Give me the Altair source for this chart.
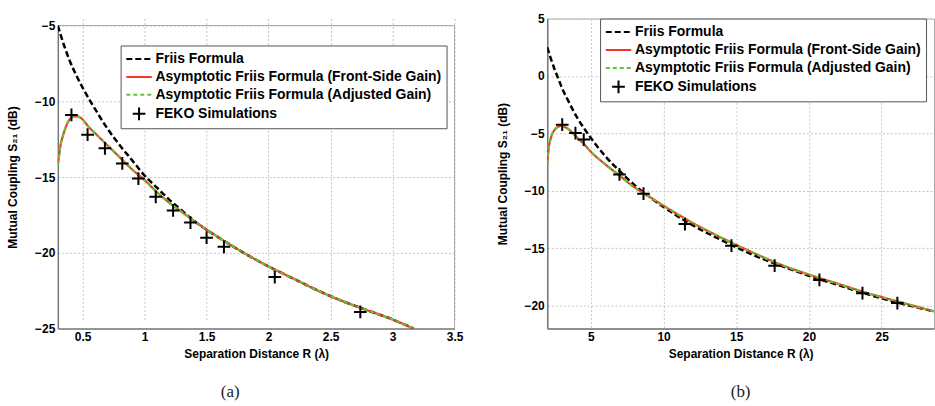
import altair as alt
import pandas as pd

SERIES = [
    "Friis Formula",
    "Asymptotic Friis Formula (Front-Side Gain)",
    "Asymptotic Friis Formula (Adjusted Gain)",
    "FEKO Simulations",
]
COLORS = ["#000000", "#f5352a", "#5dc535", "#000000"]
DASHES = [[6, 3], [1, 0], [4, 3], [1, 0]]
LINE_SYM = "M-1.5,0H1.5"
PLUS = "M-0.75,0H0.75M0,-0.75V0.75"
SHAPES = [LINE_SYM, LINE_SYM, LINE_SYM, PLUS]
FRAME_COLOR = "#aaaaaa"

# ---------------- panel (a) ----------------
a_friis_r = [0.30, 0.35, 0.40, 0.45, 0.50, 0.60, 0.70, 0.80, 0.90, 1.00, 1.10, 1.20,
             1.30, 1.40, 1.60, 1.80, 2.00, 2.20, 2.40, 2.60, 2.80, 3.00, 3.17]
a_friis_s = [-5.0, -6.3, -7.4, -8.3, -9.1, -10.5, -11.8, -12.9, -13.9, -14.9, -15.7, -16.5,
             -17.2, -17.9, -19.0, -20.0, -20.9, -21.7, -22.5, -23.2, -23.8, -24.4, -25.0]
a_asym_r = [0.30, 0.31, 0.32, 0.34, 0.36, 0.38, 0.40, 0.43, 0.46, 0.50, 0.55, 0.60, 0.70,
            0.80, 0.90, 1.00, 1.10, 1.20, 1.30, 1.40, 1.60, 1.80, 2.00, 2.20, 2.40, 2.60,
            2.80, 3.00, 3.17]
a_front_s = [-14.2, -13.6, -13.0, -12.3, -11.8, -11.4, -11.15, -11.0, -11.0, -11.2, -11.7,
             -12.1, -12.9, -13.7, -14.5, -15.2, -16.0, -16.7, -17.3, -17.9, -19.0, -20.0,
             -20.9, -21.7, -22.5, -23.2, -23.8, -24.4, -25.0]
a_adj_s = [-14.2, -13.6, -13.0, -12.3, -11.8, -11.4, -11.15, -11.0, -11.0, -11.2, -11.7,
           -12.1, -12.9, -13.7, -14.5, -15.2, -16.0, -16.7, -17.3, -17.9, -19.0, -20.0,
           -20.9, -21.7, -22.5, -23.2, -23.8, -24.4, -25.0]
a_feko_r = [0.41, 0.54, 0.68, 0.82, 0.95, 1.09, 1.23, 1.37, 1.50, 1.64, 2.05, 2.74]
a_feko_s = [-10.9, -12.2, -13.1, -14.1, -15.1, -16.3, -17.2, -18.0, -19.0, -19.6, -21.6, -23.9]
a_xticks = [0.5, 1, 1.5, 2, 2.5, 3, 3.5]
a_yticks = [-25, -20, -15, -10, -5]

# ---------------- panel (b) ----------------
b_friis_r = [2.0, 2.25, 2.5, 2.75, 3.0, 3.5, 4.0, 4.5, 5.0, 6.0, 7.0, 8.0, 9.0, 10.0,
             12.0, 14.0, 16.0, 18.0, 20.0, 22.0, 24.0, 26.0, 28.6]
b_friis_s = [2.5, 1.5, 0.6, -0.2, -1.0, -2.3, -3.5, -4.5, -5.4, -7.0, -8.3, -9.5, -10.5,
             -11.4, -13.0, -14.3, -15.5, -16.5, -17.4, -18.2, -19.0, -19.7, -20.5]
b_asym_r = [2.0, 2.1, 2.25, 2.5, 2.8, 3.0, 3.3, 3.7, 4.0, 4.5, 5.0, 6.0, 7.0, 8.0, 9.0,
            10.0, 12.0, 14.0, 16.0, 18.0, 20.0, 22.0, 24.0, 26.0, 28.6]
b_front_s = [-7.6, -6.3, -5.4, -4.7, -4.4, -4.35, -4.5, -4.9, -5.3, -5.9, -6.6, -7.7, -8.7,
             -9.7, -10.5, -11.3, -12.8, -14.1, -15.3, -16.4, -17.3, -18.1, -18.9, -19.6, -20.5]
b_adj_s = [-7.6, -6.3, -5.4, -4.7, -4.4, -4.35, -4.5, -4.9, -5.3, -5.9, -6.6, -7.7, -8.7,
           -9.7, -10.5, -11.3, -12.8, -14.1, -15.3, -16.4, -17.3, -18.1, -18.9, -19.6, -20.5]
b_feko_r = [3.03, 3.94, 4.51, 6.97, 8.62, 11.47, 14.67, 17.64, 20.72, 23.68, 26.08]
b_feko_s = [-4.24, -4.97, -5.54, -8.57, -10.25, -12.9, -14.78, -16.52, -17.76, -18.92, -19.78]
b_xticks = [5, 10, 15, 20, 25]
b_yticks = [-20, -15, -10, -5, 0, 5]


def frame(r, s, name):
    return pd.DataFrame({"R": r, "S21": s, "series": name})


def panel(friis, front, adj, feko, xdom, ydom, xticks, yticks, w, h, lx, ly, cap, cap_dx,
          top_gap=0):
    cs = alt.Scale(domain=SERIES, range=COLORS)
    ds = alt.Scale(domain=SERIES, range=DASHES)
    ss = alt.Scale(domain=SERIES, range=SHAPES)
    leg = alt.Legend(
        title=None, orient="none", legendX=lx, legendY=ly,
        symbolSize=289, symbolStrokeWidth=2, symbolOffset=5, labelOffset=7,
        labelFont="Liberation Sans", labelFontSize=14, labelFontWeight="bold",
        labelColor="black", strokeColor="#555555", fillColor="white",
        padding=4, rowPadding=1, labelLimit=0,
    )
    x = alt.X("R:Q", scale=alt.Scale(domain=xdom, nice=False, zero=False),
              axis=alt.Axis(values=xticks, format="~g", title="Separation Distance R (λ)",
                            titlePadding=6))
    if top_gap:
        ysc = alt.Scale(domain=ydom, nice=False, zero=False, range=[h, top_gap])
    else:
        ysc = alt.Scale(domain=ydom, nice=False, zero=False)
    y = alt.Y("S21:Q", scale=ysc,
              axis=alt.Axis(values=yticks, format="~g", title="Mutual Coupling S₂₁ (dB)",
                            titlePadding=15))
    layers = []
    if top_gap:
        one = pd.DataFrame({"k": [0]})
        # top and right edges of the plot frame (the axes draw left and bottom)
        layers.append(alt.Chart(one).mark_rule(color=FRAME_COLOR, strokeWidth=1).encode(
            x=alt.datum(xdom[0]), x2=alt.datum(xdom[1]), y=alt.datum(ydom[1])))
        layers.append(alt.Chart(one).mark_rule(color=FRAME_COLOR, strokeWidth=1).encode(
            x=alt.datum(xdom[1]), y=alt.datum(ydom[0]), y2=alt.datum(ydom[1])))
    for df, sw in ((friis, 2.5), (front, 2.2), (adj, 2.2)):
        layers.append(
            alt.Chart(df).mark_line(strokeWidth=sw, clip=True, interpolate="monotone").encode(
                x=x, y=y,
                color=alt.Color("series:N", scale=cs, legend=leg),
                strokeDash=alt.StrokeDash("series:N", scale=ds, legend=leg),
            )
        )
    layers.append(
        alt.Chart(feko).mark_point(filled=False, size=289, strokeWidth=2, opacity=1, clip=True).encode(
            x=x, y=y,
            color=alt.Color("series:N", scale=cs, legend=leg),
            shape=alt.Shape("series:N", scale=ss, legend=leg),
        )
    )
    props = dict(
        width=w, height=h,
        title=alt.TitleParams(cap, orient="bottom", frame="group", dx=cap_dx, offset=25),
    )
    if top_gap:
        props["view"] = alt.ViewBackground(stroke="transparent", strokeWidth=0)
    return alt.layer(*layers).properties(**props)


panel_a = panel(
    frame(a_friis_r, a_friis_s, SERIES[0]),
    frame(a_asym_r, a_front_s, SERIES[1]),
    frame(a_asym_r, a_adj_s, SERIES[2]),
    frame(a_feko_r, a_feko_s, SERIES[3]),
    [0.3, 3.5], [-25, -5], a_xticks, a_yticks, 398, 311, 63, 27, "(a)", -26, top_gap=7,
)
panel_b = panel(
    frame(b_friis_r, b_friis_s, SERIES[0]),
    frame(b_asym_r, b_front_s, SERIES[1]),
    frame(b_asym_r, b_adj_s, SERIES[2]),
    frame(b_feko_r, b_feko_s, SERIES[3]),
    [2, 28.6], [-22, 5], b_xticks, b_yticks, 388, 311, 53, 0, "(b)", 0,
)

RES = dict(color="independent", shape="independent", strokeDash="independent")

chart = (
    alt.hconcat(panel_a, panel_b, spacing=32)
    .resolve_scale(**RES)
    .resolve_legend(**RES)
    .properties(padding={"left": 6, "top": 11, "right": 0, "bottom": 0}, background="white")
    .configure_axis(
        labelFont="Liberation Sans", labelFontSize=12, labelFontWeight="bold", labelColor="black",
        titleFont="Liberation Sans", titleFontSize=12, titleFontWeight="bold", titleColor="black",
        grid=True, gridColor="#c4c4c4", gridDash=[2, 2], gridWidth=1,
        ticks=False, labelPadding=3,
        domainColor="#777777", domainWidth=1.5, labelFlush=False, labelOverlap=False,
    )
    .configure_view(stroke=FRAME_COLOR, strokeWidth=1)
    .configure_title(font="Liberation Serif", fontSize=17, fontWeight="normal", color="#222222")
)

chart.save("out.html", embed_options={"renderer": "svg", "actions": False})
